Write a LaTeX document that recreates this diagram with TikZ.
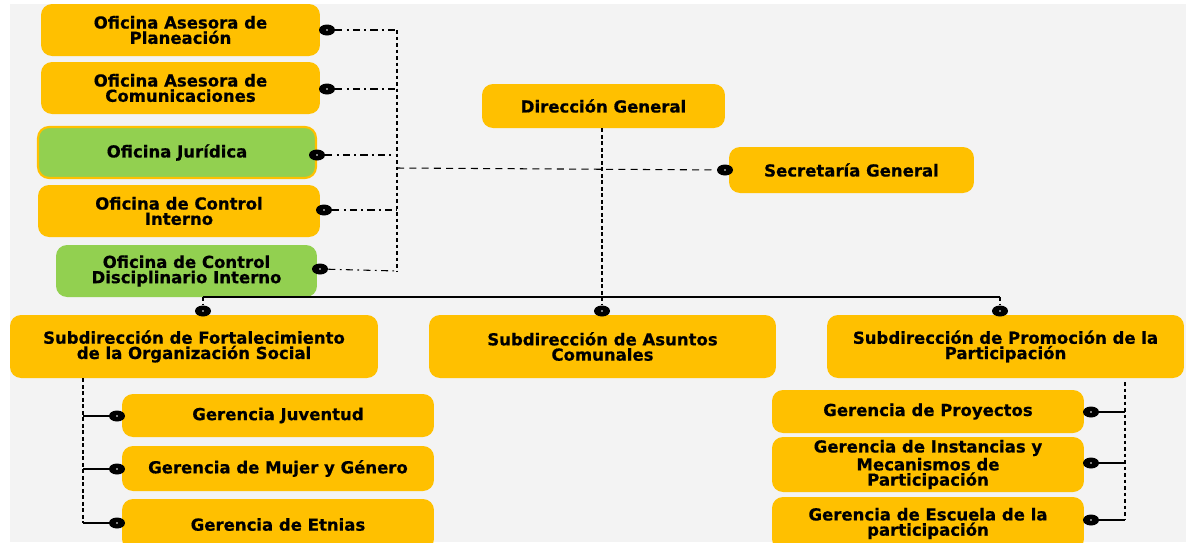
\documentclass[tikz,border=0pt]{standalone}
\usepackage{fontspec}
\setmainfont{DejaVu Sans}[BoldFeatures={FakeBold=0.6}]
\usetikzlibrary{shapes.geometric}

\definecolor{orgOrange}{HTML}{FFC000}
\definecolor{orgGreen}{HTML}{92D050}
\definecolor{paperGray}{HTML}{F3F3F3}

\tikzstyle{orgBox}=[rectangle,rounded corners=0.22cm,fill=orgOrange,align=center,inner sep=0pt,font=\bfseries\fontsize{9.4}{8.7}\selectfont]
\tikzstyle{greenBox}=[orgBox,fill=orgGreen]
\tikzstyle{linkDot}=[ellipse,fill=black,minimum width=0.32cm,minimum height=0.22cm,inner sep=0pt,path picture={\fill[white] (path picture bounding box.center) circle (0.5pt);}]
\tikzstyle{dashDotLine}=[semithick,dash pattern=on 4pt off 2.5pt on 1pt off 2.5pt]
\tikzstyle{busLine}=[thick,dash pattern=on 2.2pt off 1.5pt]
\tikzstyle{longDash}=[semithick,dash pattern=on 4pt off 3pt]

\begin{document}
\begin{tikzpicture}[x=0.02cm,y=-0.02cm]

  \useasboundingbox (0,0) rectangle (1186,542);
  \fill[paperGray] (10,4) rectangle (1186,542);

  % advisory offices
  \node[orgBox,minimum width=5.58cm,minimum height=1.04cm] (plan) at (180.5,30) {Oficina Asesora de\\Planeación};
  \node[orgBox,minimum width=5.58cm,minimum height=1.04cm] (com) at (180.5,88) {Oficina Asesora de\\Comunicaciones};
  \node[greenBox,draw=orgOrange,line width=1.2pt,minimum width=5.56cm,minimum height=1.02cm] (jur) at (177,152.5) {Oficina Jurídica};
  \node[orgBox,minimum width=5.64cm,minimum height=1.04cm] (ci) at (179,211) {Oficina de Control\\Interno};
  \node[greenBox,minimum width=5.22cm,minimum height=1.04cm] (cdi) at (186.5,271) {Oficina de Control\\Disciplinario Interno};

  % direction
  \node[orgBox,minimum width=4.86cm,minimum height=0.88cm] (dir) at (603.5,106) {Dirección General};
  \node[orgBox,minimum width=4.90cm,minimum height=0.92cm] (sec) at (851.5,170) {Secretaría General};

  % subdirections
  \node[orgBox,minimum width=7.36cm,minimum height=1.26cm] (subFort) at (194,346.5) {Subdirección de Fortalecimiento\\de la Organización Social};
  \node[orgBox,minimum width=6.94cm,minimum height=1.26cm] (subAsu) at (602.5,346.5) {Subdirección de Asuntos\\Comunales};
  \node[orgBox,minimum width=7.14cm,minimum height=1.26cm] (subPro) at (1005.5,346.5) {Subdirección de Promoción de la\\Participación};

  % gerencias
  \node[orgBox,minimum width=6.24cm,minimum height=0.86cm] (juv) at (278,415.5) {Gerencia Juventud};
  \node[orgBox,minimum width=6.24cm,minimum height=0.90cm] (muj) at (278,468.5) {Gerencia de Mujer y Género};
  \node[orgBox,minimum width=6.24cm,minimum height=1.02cm] (etn) at (278,524.5) {Gerencia de Etnias};
  \node[orgBox,minimum width=6.24cm,minimum height=0.86cm] (proy) at (928,411.5) {Gerencia de Proyectos};
  \node[orgBox,minimum width=6.24cm,minimum height=1.10cm] (inst) at (928,464.5) {Gerencia de Instancias y\\Mecanismos de\\Participación};
  \node[orgBox,minimum width=6.24cm,minimum height=1.06cm] (esc) at (928,523.5) {Gerencia de Escuela de la\\participación};

  % link dots
  \node[linkDot] (dPlan) at (327,30) {};
  \node[linkDot] (dCom) at (327,89) {};
  \node[linkDot] (dJur) at (317,155) {};
  \node[linkDot] (dCi) at (324,210) {};
  \node[linkDot] (dCdi) at (320,269) {};
  \node[linkDot] (dSec) at (725,170) {};
  \node[linkDot] (dFort) at (203,311) {};
  \node[linkDot] (dAsu) at (602,311) {};
  \node[linkDot] (dPro) at (1000,311) {};
  \node[linkDot] (dJuv) at (117,416) {};
  \node[linkDot] (dMuj) at (117,469) {};
  \node[linkDot] (dEtn) at (117,523) {};
  \node[linkDot] (dProy) at (1091,412) {};
  \node[linkDot] (dInst) at (1091,463) {};
  \node[linkDot] (dEsc) at (1091,520) {};

  \coordinate (busTop) at (397,30);
  \coordinate (busBot) at (397,271);
  \coordinate (busMid) at (397,168);
  \coordinate (dirBot) at (602,297);
  \coordinate (railL) at (203,297);
  \coordinate (railR) at (1000,297);
  \coordinate (leftBot) at (83,523);
  \coordinate (rightTop) at (1125,382);
  \coordinate (rightBot) at (1125,520);

  % advisory bus
  \path[draw,busLine] (busTop)--(busBot);
  \path[draw,dashDotLine] (dPlan)--(busTop);
  \path[draw,dashDotLine] (dCom)--(dCom -| busTop);
  \path[draw,dashDotLine] (dJur)--(dJur -| busTop);
  \path[draw,dashDotLine] (dCi)--(dCi -| busTop);
  \path[draw,dashDotLine] (dCdi)--(busBot);
  \path[draw,longDash] (busMid)--(dSec);

  % main rail
  \path[draw,busLine] (dir.south -| dirBot)--(dirBot);
  \path[draw,semithick] (railL)--(railR);
  \path[draw,busLine] (railL)--(dFort);
  \path[draw,busLine] (dirBot)--(dAsu);
  \path[draw,busLine] (railR)--(dPro);

  % left gerencias
  \path[draw,busLine] (subFort.south -| leftBot)--(leftBot);
  \path[draw,semithick] (dJuv)--(dJuv -| leftBot);
  \path[draw,semithick] (dMuj)--(dMuj -| leftBot);
  \path[draw,semithick] (dEtn)--(leftBot);

  % right gerencias
  \path[draw,busLine] (rightTop)--(rightBot);
  \path[draw,semithick] (dProy)--(dProy -| rightTop);
  \path[draw,semithick] (dInst)--(dInst -| rightTop);
  \path[draw,semithick] (dEsc)--(rightBot);

\end{tikzpicture}
\end{document}
